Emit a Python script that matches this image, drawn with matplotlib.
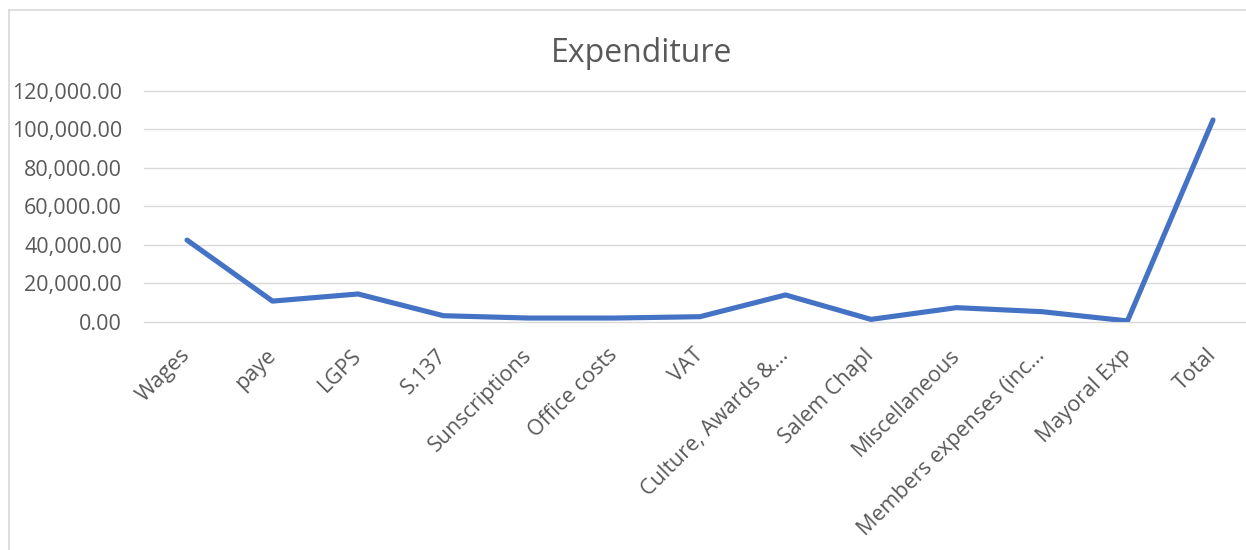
import matplotlib
matplotlib.use("Agg")
import matplotlib.pyplot as plt
from matplotlib.lines import Line2D
from matplotlib.ticker import FuncFormatter, MultipleLocator

categories = ["Wages", "paye", "LGPS", "S.137", "Sunscriptions", "Office costs", "VAT",
              "Culture, Awards &...", "Salem Chapl", "Miscellaneous",
              "Members expenses (inc...", "Mayoral Exp", "Total"]
expenditure = [42400, 10700, 14400, 3100, 1900, 1900, 2600, 13900, 1200, 7300, 5200, 400, 104800]

W, H = 1246, 550
fig = plt.figure(figsize=(W / 100, H / 100), dpi=100)
plt.rcParams['font.family'] = ['Open Sans', 'DejaVu Sans']

step = 85.5
first = 187.0
left = first - step / 2
right = first + step * (len(categories) - 1) + step / 2
top, bottom = 90.7, 321.7
ax = fig.add_axes([left / W, 1 - bottom / H, (right - left) / W, (bottom - top) / H])

x = list(range(len(categories)))
ax.plot(x, expenditure, color="#4472C4", linewidth=3.7, solid_capstyle="round",
        solid_joinstyle="round", zorder=3)

ax.set_xlim(-0.5, len(categories) - 0.5)
ax.set_ylim(0, 120000)
ax.yaxis.set_major_locator(MultipleLocator(20000))
ax.yaxis.set_major_formatter(FuncFormatter(lambda v, p: f"{v:,.2f}"))
ax.grid(axis="y", color="#D9D9D9", linewidth=1.0, zorder=0)
for gl in ax.get_ygridlines():
    gl.set_clip_on(False)
ax.set_axisbelow(True)
for s in ax.spines.values():
    s.set_visible(False)

ax.set_xticks(x)
ax.set_xticklabels(categories, rotation=45, ha="right", va="center",
                   rotation_mode="anchor")
ax.tick_params(axis="both", length=0, colors="#595959", labelsize=15.5)
ax.tick_params(axis="y", pad=16)
ax.tick_params(axis="x", pad=22)

fig.text(642 / W, 1 - 53 / H, "Expenditure", ha="center", va="center",
         fontsize=23, color="#595959")

# chart area border (left and top edges visible)
fig.add_artist(Line2D([8.5 / W, 8.5 / W], [0, 1 - 9.5 / H], color="#D9D9D9",
                      linewidth=1.2, transform=fig.transFigure))
fig.add_artist(Line2D([8.5 / W, 1], [1 - 9.5 / H, 1 - 9.5 / H], color="#D9D9D9",
                      linewidth=1.2, transform=fig.transFigure))

fig.savefig("out.png", dpi=100, facecolor="white")
